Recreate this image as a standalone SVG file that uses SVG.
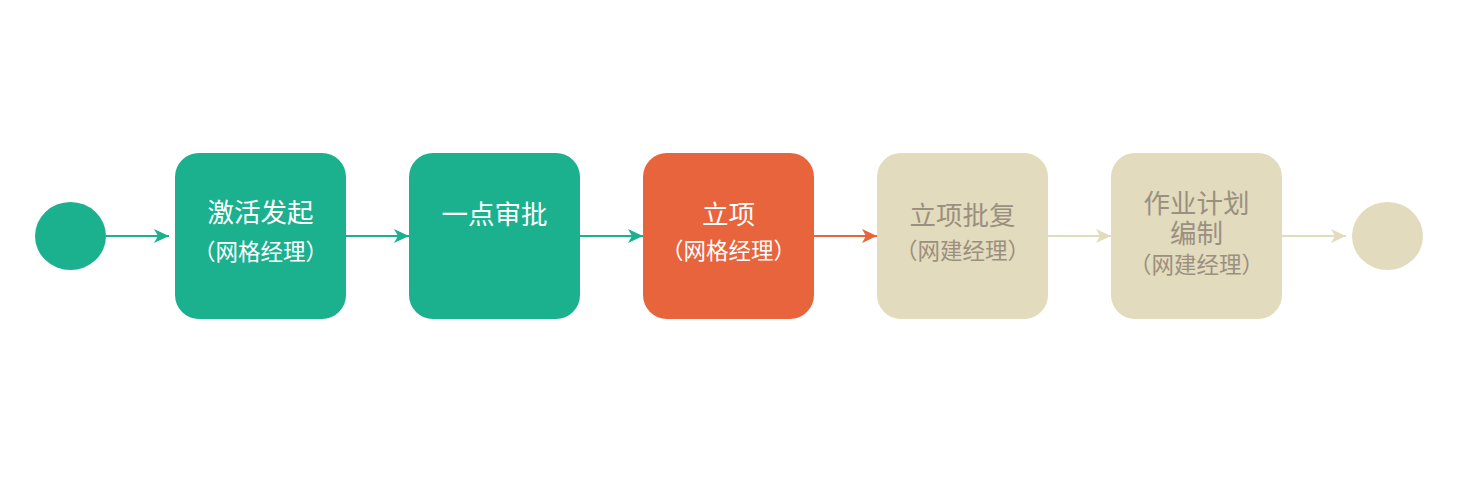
<svg xmlns="http://www.w3.org/2000/svg" width="1463" height="486" viewBox="0 0 1463 486">
<style>
.t{font-family:"Noto Sans CJK SC","Noto Sans",sans-serif;text-anchor:middle;dominant-baseline:central}
.m{font-size:26.5px}
.s{font-size:22.5px}
.w{fill:#ffffff}
.g{fill:#9b9080}
.green{fill:#1bb08e}
.orange{fill:#e8643c}
.beige{fill:#e2dbbd}
</style>
<defs>
<marker id="ag" markerUnits="userSpaceOnUse" markerWidth="16" markerHeight="16" refX="15" refY="7" orient="auto"><path d="M0,0 L15,7 L0,14 L4,7 Z" fill="#1bb08e"/></marker>
<marker id="ao" markerUnits="userSpaceOnUse" markerWidth="16" markerHeight="16" refX="15" refY="7" orient="auto"><path d="M0,0 L15,7 L0,14 L4,7 Z" fill="#e8643c"/></marker>
<marker id="ab" markerUnits="userSpaceOnUse" markerWidth="16" markerHeight="16" refX="15" refY="7" orient="auto"><path d="M0,0 L15,7 L0,14 L4,7 Z" fill="#e2dbbd"/></marker>
</defs>
<rect width="1463" height="486" fill="#ffffff"/>
<g id="connectors" stroke-width="2.2" fill="none">
<line x1="106" y1="236" x2="169" y2="236" stroke="#1bb08e" marker-end="url(#ag)"/>
<line x1="346" y1="236" x2="409" y2="236" stroke="#1bb08e" marker-end="url(#ag)"/>
<line x1="580" y1="236" x2="643" y2="236" stroke="#1bb08e" marker-end="url(#ag)"/>
<line x1="814" y1="236" x2="877" y2="236" stroke="#e8643c" marker-end="url(#ao)"/>
<line x1="1048" y1="236" x2="1111" y2="236" stroke="#e2dbbd" marker-end="url(#ab)"/>
<line x1="1282" y1="236" x2="1346" y2="236" stroke="#e2dbbd" marker-end="url(#ab)"/>
</g>
<g id="start"><ellipse cx="70.5" cy="236" rx="35.5" ry="34" class="green"/></g>
<g id="n1">
<rect x="175" y="153" width="171" height="166" rx="24" class="green"/>
<text x="260.5" y="210.5" class="t m w">激活发起</text>
<text x="260.5" y="250" class="t s w">（网格经理）</text>
</g>
<g id="n2">
<rect x="409" y="153" width="171" height="166" rx="24" class="green"/>
<text x="494.5" y="212" class="t m w">一点审批</text>
</g>
<g id="n3">
<rect x="643" y="153" width="171" height="166" rx="24" class="orange"/>
<text x="728.5" y="212" class="t m w">立项</text>
<text x="728.5" y="249" class="t s w">（网格经理）</text>
</g>
<g id="n4">
<rect x="877" y="153" width="171" height="166" rx="24" class="beige"/>
<text x="962.5" y="213" class="t m g">立项批复</text>
<text x="962.5" y="249" class="t s g">（网建经理）</text>
</g>
<g id="n5">
<rect x="1111" y="153" width="171" height="166" rx="24" class="beige"/>
<text x="1196.5" y="201" class="t m g">作业计划</text>
<text x="1196.5" y="231" class="t m g">编制</text>
<text x="1196.5" y="262.5" class="t s g">（网建经理）</text>
</g>
<g id="end"><ellipse cx="1387.5" cy="236" rx="35.5" ry="34" class="beige"/></g>
</svg>
